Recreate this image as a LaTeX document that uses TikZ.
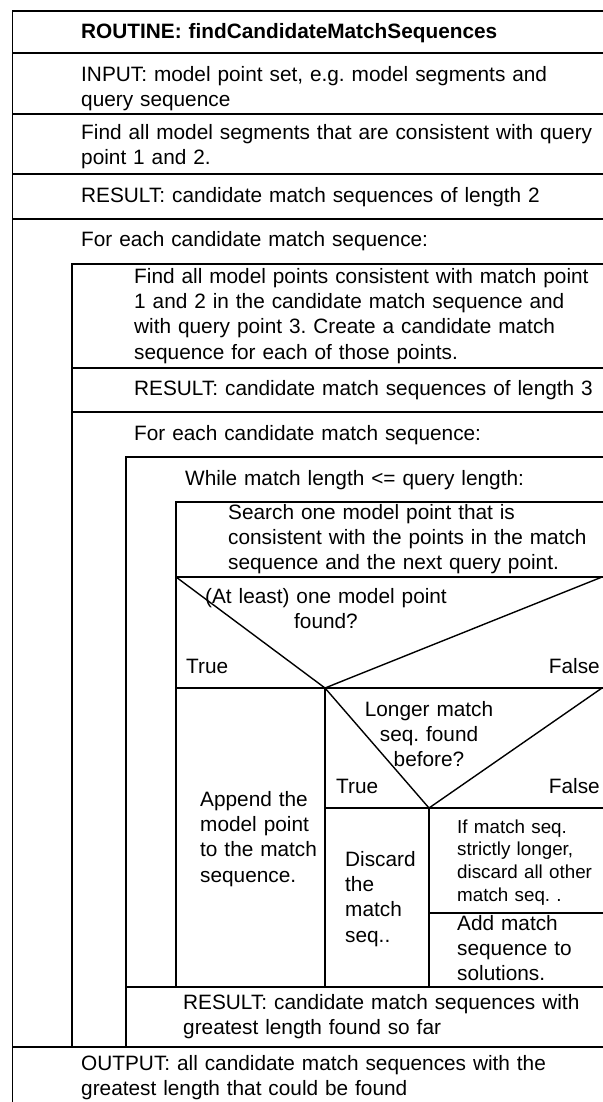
\documentclass[tikz,border=0pt]{standalone}
\usepackage{fontspec}
\setmainfont{Liberation Sans}
\frenchspacing
\begin{document}
\begin{tikzpicture}[x=1pt,y=-1pt,
  ln/.style={line width=1.4pt,line cap=rect},
  txt/.style={anchor=base west,inner sep=0pt,text width=700pt,align=left,
    font=\fontsize{20.8}{25.2}\selectfont\frenchspacing},
  sml/.style={anchor=base west,inner sep=0pt,text width=300pt,align=left,
    font=\fontsize{18.8}{22.7}\selectfont\frenchspacing},
  ctr/.style={anchor=base,inner sep=0pt,text width=300pt,align=center,
    font=\fontsize{20.8}{25.2}\selectfont\frenchspacing},
  rgt/.style={anchor=base east,inner sep=0pt,font=\fontsize{20.8}{25.2}\selectfont}]
\useasboundingbox (0,0) rectangle (602,1102);
% frame lines
\draw[ln] (12.7,1102) -- (12.7,11) -- (603,11);
\foreach \y in {53,114,174,219,1047} \draw[ln] (12.7,\y) -- (603,\y);
% loop 1 body
\draw[ln] (72,1047) -- (72,264) -- (603,264);
\foreach \y in {368,412} \draw[ln] (72,\y) -- (603,\y);
% loop 2 body
\draw[ln] (126,1047) -- (126,457) -- (603,457);
\draw[ln] (126,987) -- (603,987);
% while body
\draw[ln] (176,987) -- (176,502) -- (603,502);
\draw[ln] (176,577) -- (603,577);
% decision 1
\coordinate (d1l) at (176,577);
\coordinate (d1v) at (325,688);
\coordinate (d1r) at (602,577);
\draw[ln] (d1l) -- (d1v) -- (d1r);
\draw[ln] (176,688) -- (603,688);
\draw[ln] (d1v) -- (325,987);
% decision 2
\coordinate (d2v) at (429,808);
\coordinate (d2r) at (602,688);
\draw[ln] (d1v) -- (d2v) -- (d2r);
\draw[ln] (325,808) -- (603,808);
\draw[ln] (d2v) -- (429,987);
\draw[ln] (429,913) -- (603,913);
% texts
\node[txt,font=\fontsize{20.8}{25.2}\selectfont\bfseries] (routine) at (81,38.5) {ROUTINE: findCandidateMatchSequences};
\node[txt] (input) at (81,81.5) {INPUT: model point set, e.g. model segments and\\query sequence};
\node[txt] (find1) at (81,139.5) {Find all model segments that are consistent with query\\point 1 and 2.};
\node[txt] (res2) at (81,202.5) {RESULT: candidate match sequences of length 2};
\node[txt] (for1) at (81,246.5) {For each candidate match sequence:};
\node[txt] (find2) at (134,283.5) {Find all model points consistent with match point\\1 and 2 in the candidate match sequence and\\with query point 3. Create a candidate match\\sequence for each of those points.};
\node[txt] (res3) at (134,395.5) {RESULT: candidate match sequences of length 3};
\node[txt] (for2) at (134,440.5) {For each candidate match sequence:};
\node[txt] (while) at (185,485.5) {While match length <= query length:};
\node[txt] (search) at (228,519.5) {Search one model point that is\\consistent with the points in the match\\sequence and the next query point.};
\node[ctr] (dec1) at (326,603.5) {(At least) one model point\\found?};
\node[txt] (true1) at (186,673.5) {True};
\node[rgt] (false1) at (600,673.5) {False};
\node[txt] (append) at (200,806.5) {Append the\\model point\\to the match\\sequence.};
\node[ctr] (dec2) at (429,716.5) {Longer match\\seq. found\\before?};
\node[txt] (true2) at (336,793.5) {True};
\node[rgt] (false2) at (600,793.5) {False};
\node[txt] (discard) at (345,866.5) {Discard\\the\\match\\seq..};
\node[sml] (ifm) at (457,833) {If match seq.\\strictly longer,\\discard all other\\match seq. .};
\node[txt] (add) at (457,930.5) {Add match\\sequence to\\solutions.};
\node[txt] (resg) at (183,1009.5) {RESULT: candidate match sequences with\\greatest length found so far};
\node[txt] (output) at (81,1070.5) {OUTPUT: all candidate match sequences with the\\greatest length that could be found};
\end{tikzpicture}
\end{document}
